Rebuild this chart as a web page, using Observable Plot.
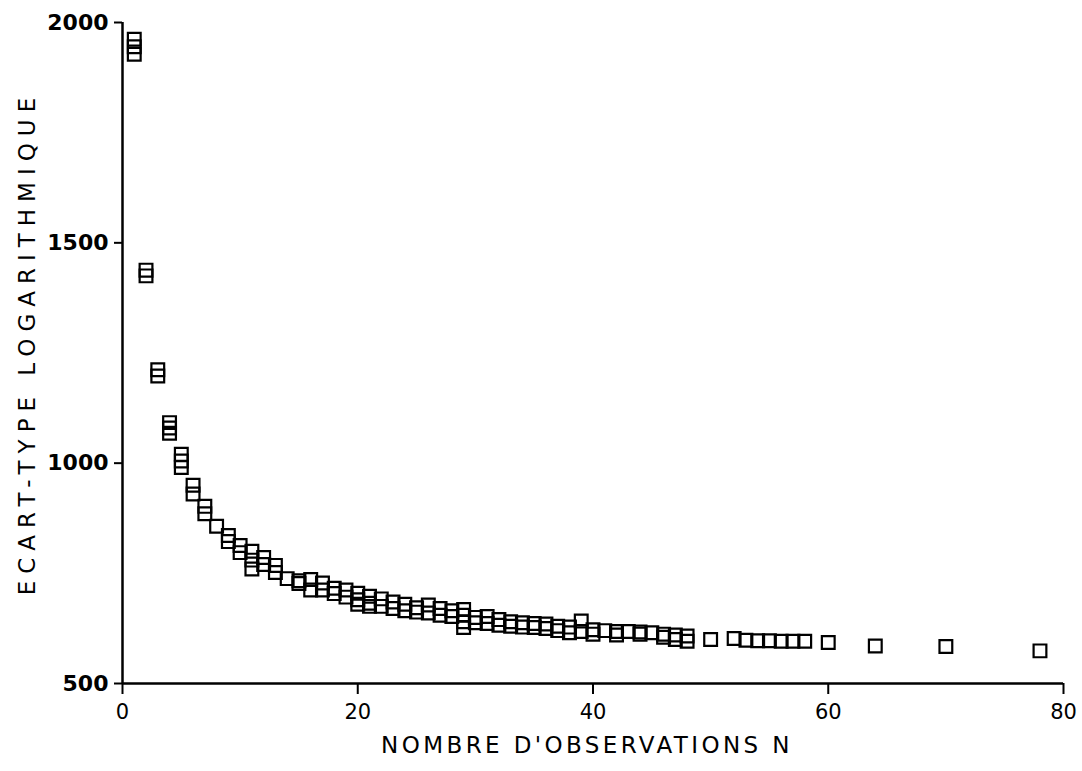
<!DOCTYPE html>
<html><head><meta charset="utf-8">
<script src="https://cdn.jsdelivr.net/npm/d3@7"></script>
<script src="https://cdn.jsdelivr.net/npm/@observablehq/plot@0.6"></script>
<style>
body{margin:0;background:#fff}
g[aria-label="y-axis tick label"] text{font-size:22px;font-weight:bold;}
g[aria-label="x-axis tick label"] text{font-size:21px;}
</style>
</head><body><div id="chart"></div>
<script>
// Nombre d'observations N
const nObs = [1,2,3,4,5,6,7,8,9,10,11,12,13,14,15,16,17,18,19,20,21,22,23,24,25,26,27,28,29,30,31,32,33,34,35,36,37,38,39,40,41,42,43,44,45,46,47,48,50,52,53,54,55,56,57,58,60,64,70,78];
// Ecart-type logarithmique (one list per N)
const ecartByN = [
  [1962,1945,1928],[1438,1425],[1212,1198],[1092,1080,1068],[1020,1005,990],
  [950,930],[902,885],[857],[836,822],[813,797],
  [800,780,760],[786,770],[768,752],[738],[733,727],
  [736,712],[728,712],[716,704],[712,696],[705,690,680],
  [698,682,675],[692,675],[685,670],[680,665],[672,662],
  [678,660],[670,655],[665,652],[668,655,640,627],[650,638],
  [652,636],[645,632],[640,630],[638,628],[636,627],
  [635,625],[630,620],[628,615],[642,618],[622,612],
  [620],[618,610],[618],[617,612],[615],
  [612,605],[610,600],[608,596],[600],[602],
  [598],[597],[597],[596],[596],
  [596],[593],[585],[584],[574]
];
const xTicks = [0,20,40,60,80];
const yTicks = [500,1000,1500,2000];
const xLabel = "NOMBRE D'OBSERVATIONS N";
const yLabel = "ECART-TYPE LOGARITHMIQUE";

const points = nObs.flatMap((n,i)=>ecartByN[i].map(v=>({n, v})));

const chart = Plot.plot({
  width:1082, height:771,
  marginLeft:122, marginRight:19, marginTop:22, marginBottom:88,
  style:{fontFamily:"DejaVu Sans", fontSize:"20px", color:"#000", background:"#fff"},
  x:{domain:[0,80]},
  y:{domain:[500,2000]},
  marks:[
    Plot.ruleX([0],{strokeWidth:2.5}),
    Plot.ruleY([500],{strokeWidth:2.5}),
    Plot.axisX({ticks:xTicks, tickSize:11, tickPadding:10, strokeWidth:2, label:null}),
    Plot.axisY({ticks:yTicks, tickSize:8, tickPadding:6, strokeWidth:2, tickFormat:d=>String(d), label:null}),
    Plot.text([xLabel], {text:d=>d, frameAnchor:"bottom", textAnchor:"middle", lineAnchor:"middle", dy:62, dx:-6, fontSize:23}),
    Plot.text([yLabel], {text:d=>d, frameAnchor:"left", textAnchor:"middle", lineAnchor:"middle", rotate:-90, dx:-95, dy:-10, fontSize:23}),
    Plot.dot(points,{x:"n", y:"v", symbol:"square", r:7.2, stroke:"#000", strokeWidth:2.2, fill:"none"})
  ]
});
d3.select(chart).selectAll("text").each(function(){
  if (this.textContent === xLabel) this.style.letterSpacing = "3.4px";
  if (this.textContent === yLabel) this.style.letterSpacing = "7px";
});
document.getElementById("chart").appendChild(chart);
</script>
</body></html>
